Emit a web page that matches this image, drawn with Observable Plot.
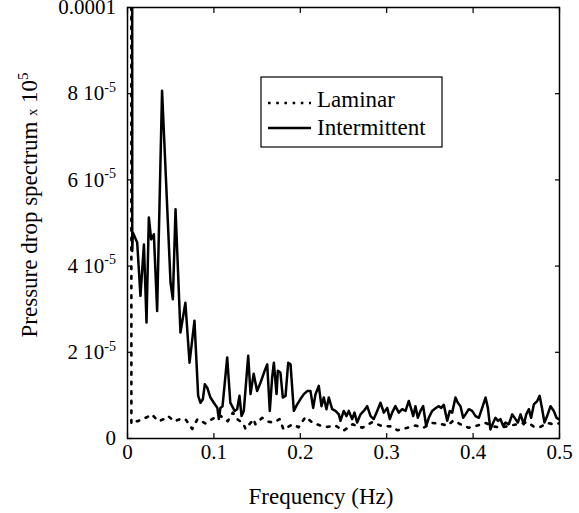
<!DOCTYPE html>
<html><head><meta charset="utf-8">
<script src="https://cdn.jsdelivr.net/npm/d3@7"></script>
<script src="https://cdn.jsdelivr.net/npm/@observablehq/plot@0.6"></script>
<style>body{margin:0;background:#fff}svg{display:block}</style>
</head><body><div id="chart"></div>
<script>
// Values are in units of 1e-5
const laminarFreq = [0.0035,0.0045,0.007,0.0116,0.017,0.023,0.028,0.036,0.042,0.047,0.054,0.061,0.067,0.075,0.081,0.09,0.098,0.106,0.116,0.122,0.127,0.134,0.1366,0.146,0.148,0.152,0.156,0.163,0.169,0.176,0.1806,0.191,0.198,0.206,0.214,0.2234,0.2315,0.2407,0.25,0.2604,0.272,0.2836,0.2928,0.3044,0.3125,0.324,0.3333,0.3426,0.353,0.36,0.3704,0.3773,0.3854,0.3947,0.4051,0.4144,0.4236,0.4317,0.4433,0.4514,0.463,0.4699,0.478,0.4861,0.493,0.4988];
const laminarVal = [200,0.35,0.4,0.4,0.45,0.5,0.56,0.4,0.45,0.52,0.4,0.45,0.45,0.22,0.45,0.35,0.45,0.55,0.4,0.6,0.45,0.35,0.22,0.45,0.33,0.41,0.48,0.39,0.37,0.45,0.21,0.33,0.26,0.5,0.37,0.3,0.27,0.3,0.18,0.33,0.25,0.38,0.3,0.28,0.19,0.25,0.3,0.25,0.36,0.35,0.3,0.42,0.33,0.25,0.3,0.36,0.28,0.25,0.3,0.33,0.38,0.28,0.27,0.36,0.33,0.35];

const intermittentFreq = [0.0035,0.0055,0.0062,0.0112,0.015,0.019,0.022,0.0247,0.0274,0.0305,0.0343,0.040,0.0498,0.0525,0.0556,0.0613,0.067,0.0718,0.0775,0.0818,0.0845,0.0872,0.0895,0.0923,0.096,0.0999,0.104,0.1057,0.1076,0.110,0.1154,0.119,0.124,0.1269,0.1296,0.132,0.1346,0.1397,0.1424,0.146,0.150,0.154,0.158,0.1617,0.1647,0.1674,0.1694,0.1725,0.174,0.177,0.1798,0.1829,0.186,0.1887,0.1925,0.1964,0.200,0.2041,0.208,0.2118,0.2149,0.2176,0.2214,0.2245,0.2272,0.2303,0.233,0.2369,0.2407,0.2446,0.2465,0.2503,0.2535,0.2561,0.26,0.2627,0.2658,0.2697,0.2735,0.2774,0.2813,0.285,0.289,0.2928,0.2967,0.3006,0.3036,0.3063,0.310,0.314,0.3179,0.3218,0.3256,0.3284,0.3307,0.3333,0.336,0.3391,0.3422,0.3457,0.3487,0.3526,0.3565,0.360,0.3631,0.3661,0.370,0.373,0.3758,0.3796,0.3823,0.3854,0.3885,0.3912,0.395,0.3989,0.4028,0.4066,0.4105,0.4144,0.4171,0.420,0.4233,0.4259,0.4286,0.4317,0.4348,0.4375,0.4413,0.4453,0.4491,0.4518,0.4549,0.4587,0.4615,0.4645,0.4672,0.4703,0.4742,0.477,0.4797,0.4826,0.4857,0.4896,0.4934,0.4965,0.4992];
const intermittentVal = [200,4.35,4.78,4.55,3.31,4.5,2.69,5.13,4.62,4.74,2.96,8.07,3.62,3.23,5.32,2.46,3.15,1.76,2.73,0.99,0.83,0.91,1.26,1.18,0.95,0.83,0.71,0.45,0.71,0.75,1.88,0.83,0.64,0.68,0.99,0.52,0.64,1.92,1.03,1.5,1.10,1.30,1.53,1.72,0.64,1.41,1.76,1.03,1.57,1.53,0.95,0.99,1.76,1.72,0.64,0.79,0.91,1.03,1.10,1.10,0.71,1.03,1.22,0.75,0.95,0.68,0.95,0.68,0.64,0.56,0.41,0.64,0.52,0.64,0.45,0.60,0.37,0.56,0.64,0.75,0.52,0.45,0.64,0.83,0.60,0.71,0.45,0.60,0.75,0.60,0.68,0.64,0.87,0.68,0.52,0.75,0.48,0.64,0.75,0.29,0.48,0.64,0.70,0.75,0.71,0.78,0.41,0.64,0.60,0.95,0.83,0.75,0.48,0.56,0.68,0.64,0.52,0.48,0.71,0.95,0.71,0.21,0.37,0.48,0.41,0.45,0.29,0.37,0.33,0.56,0.45,0.37,0.56,0.33,0.56,0.68,0.48,0.79,0.87,0.99,0.71,0.37,0.52,0.75,0.64,0.48,0.45];

const seriesNames = ["Laminar", "Intermittent"];
const xTicks = [0, 0.1, 0.2, 0.3, 0.4, 0.5];
const xTickLabels = ["0", "0.1", "0.2", "0.3", "0.4", "0.5"];
const yTicks = [0, 2e-5, 4e-5, 6e-5, 8e-5, 1e-4];
const yTickLabels = ["0", "2 10-5", "4 10-5", "6 10-5", "8 10-5", "0.0001"];
const xTitle = "Frequency (Hz)";
const yTitleMain = "Pressure drop spectrum";
const yTitleSmall = "x";
const yTitleBase = "10";
const yTitleExp = "5";
const unit = 1e-5;

const laminar = laminarFreq.map((f, i) => ({f, v: laminarVal[i] * unit}));
const intermittent = intermittentFreq.map((f, i) => ({f, v: intermittentVal[i] * unit}));

const FONT = "'Liberation Serif', 'Times New Roman', serif";

const plot = Plot.plot({
  width: 579, height: 513,
  marginLeft: 127, marginRight: 20, marginTop: 7, marginBottom: 75,
  style: {fontFamily: FONT, fontSize: "21px", color: "#000", background: "#fff", overflow: "visible"},
  x: {domain: [0, 0.5]},
  y: {domain: [0, 1e-4]},
  marks: [
    Plot.line(laminar, {x: "f", y: "v", stroke: "#000", strokeWidth: 2.6, strokeDasharray: "2.6,7", clip: true}),
    Plot.line(intermittent, {x: "f", y: "v", stroke: "#000", strokeWidth: 2.5, clip: true}),
    Plot.frame({stroke: "#000", strokeWidth: 1.5}),
    Plot.axisX(xTicks, {anchor: "bottom", tickSize: -5, tickPadding: 11, tickFormat: d => xTickLabels[xTicks.indexOf(d)], label: null, strokeWidth: 1.2}),
    Plot.axisX(xTicks, {anchor: "top", tickSize: -5, tickFormat: () => "", label: null, strokeWidth: 1.2}),
    Plot.axisY(yTicks, {anchor: "left", tickSize: -5, tickPadding: 16.5, tickFormat: d => yTickLabels[yTicks.indexOf(d)], label: null, strokeWidth: 1.2}),
    Plot.axisY(yTicks, {anchor: "right", tickSize: -5, tickFormat: () => "", label: null, strokeWidth: 1.2})
  ]
});

const svg = d3.select(plot);
// superscripts in y tick labels
svg.selectAll('g[aria-label="y-axis tick label"] text').each(function () {
  const t = this.textContent;
  const m = t.match(/^(\S+) 10(-\d+)$/);
  if (m) {
    const el = d3.select(this);
    el.text(null);
    el.append("tspan").text(m[1] + " 10");
    el.append("tspan").attr("dy", "-0.6em").attr("font-size", "14px").text(m[2]);
  }
});

// axis titles
svg.append("text").attr("x", 321).attr("y", 504).attr("text-anchor", "middle")
  .attr("font-family", FONT).attr("font-size", 23).attr("fill", "#000").text(xTitle);
const yt = svg.append("text").attr("transform", "translate(37,205) rotate(-90)").attr("text-anchor", "middle")
  .attr("font-family", FONT).attr("font-size", 23).attr("fill", "#000");
yt.append("tspan").text(yTitleMain + " ");
yt.append("tspan").attr("font-size", 14).text(yTitleSmall);
yt.append("tspan").text(" " + yTitleBase);
yt.append("tspan").attr("dy", "-0.6em").attr("font-size", 15).text(yTitleExp);

// legend
const lg = svg.append("g").attr("aria-label", "legend").attr("text-anchor", "start");
lg.append("rect").attr("x", 261).attr("y", 77).attr("width", 181).attr("height", 70)
  .attr("fill", "#fff").attr("stroke", "#000").attr("stroke-width", 1.2);
const styles = [{dash: "2.6,5.6"}, {dash: null}];
seriesNames.forEach((name, i) => {
  const cy = i === 0 ? 103 : 128;
  const ln = lg.append("line").attr("x1", 268).attr("x2", 311).attr("y1", cy).attr("y2", cy)
    .attr("stroke", "#000").attr("stroke-width", 2.5);
  if (styles[i].dash) ln.attr("stroke-dasharray", styles[i].dash);
  lg.append("text").attr("x", 317).attr("y", cy + 4 + (i === 0 ? 0 : 3)).attr("text-anchor", "start")
    .attr("font-family", FONT).attr("font-size", 23).attr("fill", "#000").text(name);
});

document.getElementById("chart").appendChild(plot);
</script>
</body></html>
